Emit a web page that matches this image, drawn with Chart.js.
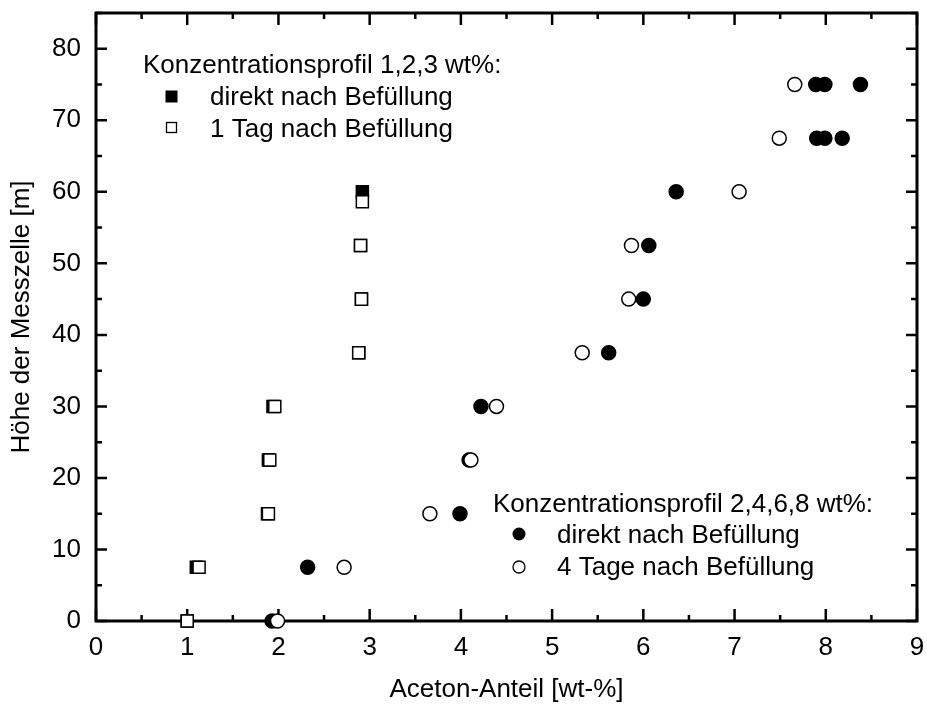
<!DOCTYPE html>
<html>
<head>
<meta charset="utf-8">
<script src="https://cdn.jsdelivr.net/npm/chart.js@4"></script>
<style>
  html, body { margin: 0; padding: 0; background: #fff; }
</style>
</head>
<body>
<canvas id="profileChart" width="927" height="706"></canvas>
<script>
// Konzentrationsprofil 1,2,3 wt%
const squareFilledX = [1.00, 1.10, 1.88, 1.89, 1.94, 2.88, 2.91, 2.90, 2.92];
const squareFilledY = [0, 7.5, 15, 22.5, 30, 37.5, 45, 52.5, 60];
const squareOpenX = [1.00, 1.13, 1.89, 1.905, 1.96, 2.88, 2.91, 2.90, 2.92];
const squareOpenY = [0, 7.5, 15, 22.5, 30, 37.5, 45, 52.5, 58.6];

// Konzentrationsprofil 2,4,6,8 wt%
const circleFilledX = [1.93, 2.32, 3.99, 4.09, 4.22, 5.62, 6.00, 6.06, 6.36, 7.90, 7.99, 8.18, 7.89, 7.99, 8.38];
const circleFilledY = [0, 7.5, 15, 22.5, 30, 37.5, 45, 52.5, 60, 67.5, 67.5, 67.5, 75, 75, 75];
const circleOpenX = [1.99, 2.72, 3.66, 4.11, 4.39, 5.33, 5.84, 5.87, 7.05, 7.49, 7.66];
const circleOpenY = [0, 7.5, 15, 22.5, 30, 37.5, 45, 52.5, 60, 67.5, 75];

const xTicks = [0, 1, 2, 3, 4, 5, 6, 7, 8, 9];
const yTicks = [0, 10, 20, 30, 40, 50, 60, 70, 80];

const FONT = '"Liberation Sans", Arial, Helvetica, sans-serif';

function toPoints(xs, ys) {
    return xs.map((x, i) => ({x: x, y: ys[i]}));
}

// frame with inward ticks on all four sides
const framePlugin = {
    id: 'frame',
    beforeDatasetsDraw(chart) {
        const {ctx, chartArea: a, scales: {x, y}} = chart;
        ctx.save();
        ctx.strokeStyle = '#000';
        ctx.lineWidth = 2.5;
        ctx.beginPath();
        xTicks.forEach((v, i) => {
            const px = x.getPixelForValue(v);
            ctx.moveTo(px, a.bottom); ctx.lineTo(px, a.bottom - 12);
            ctx.moveTo(px, a.top); ctx.lineTo(px, a.top + 12);
            if (i < xTicks.length - 1) {
                const pm = x.getPixelForValue((v + xTicks[i + 1]) / 2);
                ctx.moveTo(pm, a.bottom); ctx.lineTo(pm, a.bottom - 6);
                ctx.moveTo(pm, a.top); ctx.lineTo(pm, a.top + 6);
            }
        });
        const yAll = yTicks.concat([85]);
        yAll.forEach((v, i) => {
            const py = y.getPixelForValue(v);
            if (v !== 85) {
                ctx.moveTo(a.left, py); ctx.lineTo(a.left + 11, py);
                ctx.moveTo(a.right, py); ctx.lineTo(a.right - 11, py);
            }
            if (i < yAll.length - 1) {
                const pm = y.getPixelForValue(v + 5);
                ctx.moveTo(a.left, pm); ctx.lineTo(a.left + 6, pm);
                ctx.moveTo(a.right, pm); ctx.lineTo(a.right - 6, pm);
            }
        });
        ctx.stroke();
        ctx.lineWidth = 3;
        ctx.strokeRect(a.left, a.top, a.right - a.left, a.bottom - a.top);
        ctx.restore();
    }
};

// the two legend boxes
const legendPlugin = {
    id: 'twoLegends',
    afterDraw(chart) {
        const ctx = chart.ctx;
        ctx.save();
        ctx.fillStyle = '#000';
        ctx.strokeStyle = '#000';
        ctx.font = '26px ' + FONT;
        ctx.textBaseline = 'alphabetic';
        ctx.textAlign = 'left';

        ctx.fillText('Konzentrationsprofil 1,2,3 wt%:', 143, 73);
        ctx.fillText('direkt nach Befüllung', 210, 105);
        ctx.fillText('1 Tag nach Befüllung', 210, 137);
        ctx.fillRect(165.5, 90.5, 12, 12);
        ctx.lineWidth = 1.3;
        ctx.fillStyle = '#fff';
        ctx.fillRect(166.5, 122.5, 10, 10);
        ctx.strokeRect(166.5, 122.5, 10, 10);

        ctx.fillStyle = '#000';
        ctx.fillText('Konzentrationsprofil 2,4,6,8 wt%:', 493, 512);
        ctx.fillText('direkt nach Befüllung', 557, 543);
        ctx.fillText('4 Tage nach Befüllung', 557, 575);
        ctx.beginPath();
        ctx.arc(519, 534, 6.5, 0, Math.PI * 2);
        ctx.fill();
        ctx.beginPath();
        ctx.arc(519, 567, 6, 0, Math.PI * 2);
        ctx.fillStyle = '#fff';
        ctx.fill();
        ctx.stroke();
        ctx.restore();
    }
};

new Chart(document.getElementById('profileChart'), {
    type: 'scatter',
    data: {
        datasets: [
            {
                label: '4 Tage nach Befüllung',
                data: toPoints(circleOpenX, circleOpenY),
                pointStyle: 'circle',
                pointRadius: 7,
                pointBorderWidth: 1.5,
                pointBackgroundColor: '#fff',
                pointBorderColor: '#000',
                clip: false
            },
            {
                label: 'direkt nach Befüllung (2,4,6,8)',
                data: toPoints(circleFilledX, circleFilledY),
                pointStyle: 'circle',
                pointRadius: 7,
                pointBorderWidth: 1.5,
                pointBackgroundColor: '#000',
                pointBorderColor: '#000',
                clip: false
            },
            {
                label: '1 Tag nach Befüllung',
                data: toPoints(squareOpenX, squareOpenY),
                pointStyle: 'rect',
                pointRadius: 8.5,
                pointBorderWidth: 1.5,
                pointBackgroundColor: '#fff',
                pointBorderColor: '#000',
                clip: false
            },
            {
                label: 'direkt nach Befüllung (1,2,3)',
                data: toPoints(squareFilledX, squareFilledY),
                pointStyle: 'rect',
                pointRadius: 8.5,
                pointBorderWidth: 1.5,
                pointBackgroundColor: '#000',
                pointBorderColor: '#000',
                clip: false
            }
        ]
    },
    options: {
        responsive: false,
        animation: false,
        events: [],
        layout: {
            padding: {left: 0, right: 9, top: 13, bottom: 0}
        },
        scales: {
            x: {
                type: 'linear',
                min: 0,
                max: 9,
                border: {display: false},
                grid: {display: false, drawTicks: false},
                afterBuildTicks: scale => { scale.ticks = xTicks.map(v => ({value: v})); },
                afterFit: scale => {
                    scale.height = 85;
                    scale.paddingLeft = 0;
                    scale.paddingRight = 0;
                },
                ticks: {
                    color: '#000',
                    padding: 11,
                    font: {family: FONT, size: 26}
                },
                title: {
                    display: true,
                    text: 'Aceton-Anteil [wt-%]',
                    color: '#000',
                    padding: {top: 1, bottom: 1},
                    font: {family: FONT, size: 26}
                }
            },
            y: {
                type: 'linear',
                min: 0,
                max: 85,
                border: {display: false},
                grid: {display: false, drawTicks: false},
                afterBuildTicks: scale => { scale.ticks = yTicks.map(v => ({value: v})); },
                afterFit: scale => {
                    scale.width = 96;
                    scale.paddingTop = 0;
                    scale.paddingBottom = 0;
                },
                ticks: {
                    color: '#000',
                    padding: 15,
                    font: {family: FONT, size: 26}
                },
                title: {
                    display: true,
                    text: 'Höhe der Messzelle [m]',
                    color: '#000',
                    padding: {top: 6, bottom: 6},
                    font: {family: FONT, size: 26}
                }
            }
        },
        plugins: {
            legend: {display: false},
            tooltip: {enabled: false}
        }
    },
    plugins: [framePlugin, legendPlugin]
});
</script>
</body>
</html>
